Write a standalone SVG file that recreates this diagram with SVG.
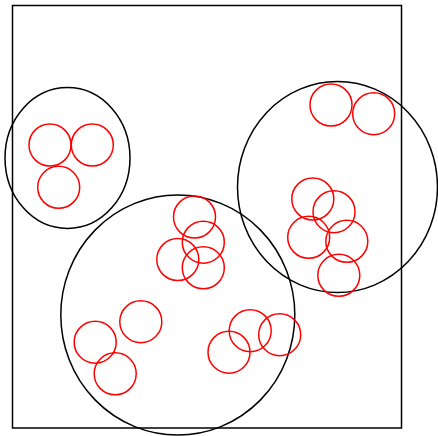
<svg xmlns="http://www.w3.org/2000/svg" width="438" height="436" viewBox="0 0 438 436">
<style>
.big{fill:none;stroke:#000;stroke-width:1.5}
.sm{fill:none;stroke:#f00;stroke-width:1.5}
</style>
<rect x="0" y="0" width="438" height="436" fill="#fff"/>
<rect id="frame" x="12.5" y="5.5" width="389" height="422.5" fill="none" stroke="#000" stroke-width="1.5"/>
<g id="cluster-left">
<ellipse class="big" cx="67.5" cy="158" rx="62.5" ry="70.5"/>
<circle class="sm" cx="50" cy="145" r="21"/>
<circle class="sm" cx="92.3" cy="145" r="21"/>
<circle class="sm" cx="58.7" cy="187.3" r="21"/>
</g>
<g id="cluster-right">
<ellipse class="big" cx="337.5" cy="187" rx="100" ry="105.5"/>
<circle class="sm" cx="331" cy="105" r="21"/>
<circle class="sm" cx="373.7" cy="113.7" r="21"/>
<circle class="sm" cx="312.8" cy="199" r="21"/>
<circle class="sm" cx="334" cy="211.7" r="21"/>
<circle class="sm" cx="308.7" cy="237.3" r="21"/>
<circle class="sm" cx="346.8" cy="241.3" r="21"/>
<circle class="sm" cx="338.8" cy="275.3" r="21"/>
</g>
<g id="cluster-bottom">
<ellipse class="big" cx="177.8" cy="315" rx="117" ry="120"/>
<circle class="sm" cx="194.5" cy="217" r="21"/>
<circle class="sm" cx="203.3" cy="242.2" r="21"/>
<circle class="sm" cx="177.8" cy="259.5" r="21"/>
<circle class="sm" cx="203.3" cy="267.8" r="21"/>
<circle class="sm" cx="140.8" cy="321.7" r="21"/>
<circle class="sm" cx="95.2" cy="342.2" r="21"/>
<circle class="sm" cx="115.2" cy="373.8" r="21"/>
<circle class="sm" cx="250.2" cy="330.7" r="21"/>
<circle class="sm" cx="279.7" cy="334.7" r="21"/>
<circle class="sm" cx="229" cy="352.2" r="21"/>
</g>
<g id="connectors"></g>
</svg>
